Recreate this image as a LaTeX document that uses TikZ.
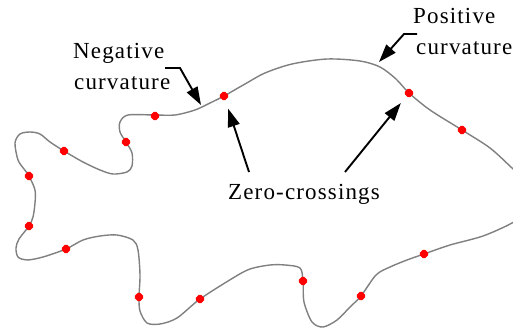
\documentclass[tikz,border=0pt]{standalone}
\usepackage{fontspec}
\setmainfont{Liberation Serif}[LetterSpace=5.0]
\usetikzlibrary{arrows.meta}
\tikzset{
  lbl/.style={inner sep=0pt, anchor=base west, font=\fontsize{23}{28}\selectfont},
  contour/.style={draw=black!50, line width=1.4pt, line join=round},
  zc/.style={fill=red, draw=none, rectangle, rotate=45, minimum size=7.5pt, inner sep=0pt, rounded corners=1.8pt},
  arr/.style={draw=black, line width=1.9pt, -{Triangle[length=18pt,width=12pt]}}
}
\begin{document}
\begin{tikzpicture}[x=1pt,y=-1pt]
\path[fill=white] (0,0) rectangle (513,334);
\useasboundingbox (0,0) rectangle (513,334);
\begin{scope}
\clip (0,0) rectangle (513,334);
\draw[contour] plot[smooth cycle, tension=0.5] coordinates {
(224,96) (245,84) (265,73) (292,64) (327,59) (360,61) (380,67) (396,79)
(409,93) (430,110) (462,130) (490,148) (512,168) (530,185) (530,210)
(512,223) (483,236) (450,245) (424,254) (407,260) (390,267) (376,275)
(361,296) (350,307) (337,320) (323,327) (312,322) (304,302)
(303,281) (300,268) (285,265) (270,265) (250,269) (233,278)
(200,299) (177,318) (160,324) (147,323) (140,311)
(139,297) (140,275) (138,250) (133,240) (117,235) (100,236) (83,240)
(66,249) (43,257) (27,260) (18,257) (16,248) (19,239)
(29,226) (33,217) (35,203) (35,190)
(29,176) (24,169) (18,160) (15,143) (20,134) (30,132) (40,134) (50,142)
(64,151) (83,162) (100,170) (113,174) (127,172) (132,166) (132,153)
(126,142) (120,132) (120,122) (128,115)
(155,115) (175,115) (195,110) (210,103)
};
\end{scope}
% zero-crossing markers
\node[zc] (z1) at (224,96) {};
\node[zc] (z2) at (409,93) {};
\node[zc] (z3) at (462,130) {};
\node[zc] (z4) at (424,254) {};
\node[zc] (z5) at (361,296) {};
\node[zc] (z6) at (303,281) {};
\node[zc] (z7) at (200,299) {};
\node[zc] (z8) at (139,297) {};
\node[zc] (z9) at (66,249) {};
\node[zc] (z10) at (29,226) {};
\node[zc] (z11) at (29,176) {};
\node[zc] (z12) at (64,151) {};
\node[zc] (z13) at (126,142) {};
\node[zc] (z14) at (155,116) {};
% labels
\node[lbl] (negA) at (73,59) {Negative};
\node[lbl] (negB) at (74,90) {curvature};
\node[lbl] (posA) at (413,24) {Positive};
\node[lbl] (posB) at (416,55) {curvature};
\node[lbl] (zero) at (228,199) {Zero-crossings};
% arrow end points
\coordinate (nS) at (165,68);
\coordinate (nK) at (180,68);
\coordinate (nT) at (201,105);
\coordinate (pS) at (417,34);
\coordinate (pK) at (404,34);
\coordinate (pT) at (379,62);
\coordinate (zL) at (249,172);
\coordinate (zR) at (345,172);
\draw[arr, line join=miter] (nS) -- (nK) -- (nT);
\draw[arr, line join=miter] (pS) -- (pK) -- (pT);
\draw[arr, shorten >=9pt] (zL) -- (z1);
\draw[arr, shorten >=9pt] (zR) -- (z2);
\end{tikzpicture}
\end{document}
